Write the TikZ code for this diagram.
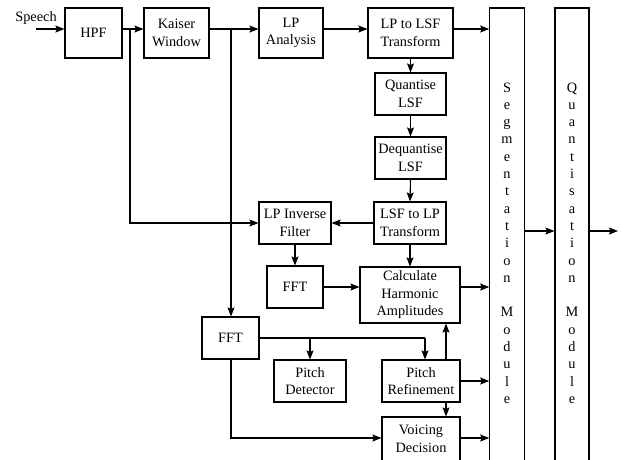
\documentclass[tikz,border=0pt]{standalone}
\usepackage{fontspec}
\setmainfont{Liberation Serif}
\usetikzlibrary{arrows.meta}
\begin{document}
\begin{tikzpicture}[x=1pt,y=-1pt,
  every node/.style={font=\fontsize{14.3}{17.5}\selectfont},
  box/.style={draw,line width=1.1pt,align=center,inner sep=0pt},
  arr/.style={line width=1.1pt,-{Stealth[length=9pt,width=7pt,inset=1.5pt]}},
  ln/.style={line width=1.1pt}]
\useasboundingbox (0,0) rectangle (622,459);
\clip (0,0) rectangle (622,459);
% boxes
\node[box,minimum width=57pt,minimum height=50pt] (hpf) at (93.5,33) {HPF};
\node[box,minimum width=65pt,minimum height=50pt] (kaiser) at (176.5,33) {Kaiser\\Window};
\node[box,minimum width=64pt,minimum height=50pt] (lpa) at (291,33) {LP\\Analysis};
\node[box,minimum width=85pt,minimum height=50pt] (lp2lsf) at (410.5,33) {LP to LSF\\Transform};
\node[box,minimum width=71pt,minimum height=42pt] (qlsf) at (410.5,94) {Quantise\\LSF};
\node[box,minimum width=71pt,minimum height=42pt] (dqlsf) at (410.5,158) {Dequantise\\LSF};
\node[box,minimum width=72pt,minimum height=42pt] (lsf2lp) at (410,223) {LSF to LP\\Transform};
\node[box,minimum width=72pt,minimum height=42pt] (lpinv) at (295,223) {LP Inverse\\Filter};
\node[box,minimum width=56pt,minimum height=42pt] (fft1) at (295,287) {FFT};
\node[box,minimum width=100pt,minimum height=56pt] (calc) at (410,295) {Calculate\\Harmonic\\Amplitudes};
\node[box,minimum width=57pt,minimum height=42pt] (fft2) at (230.5,338) {FFT};
\node[box,minimum width=72pt,minimum height=42pt] (pdet) at (310,381) {Pitch\\Detector};
\node[box,minimum width=78pt,minimum height=42pt] (pref) at (421,381) {Pitch\\Refinement};
\node[box,minimum width=78pt,minimum height=44pt] (voic) at (421,439) {Voicing\\Decision};
\node[box,minimum width=34.5pt,minimum height=462pt] (seg) at (507,239) {};
\node[box,minimum width=34pt,minimum height=462pt] (quant) at (572,239) {};
% vertical letters
\foreach \ch [count=\i] in {S,e,g,m,e,n,t,a,t,i,o,n,{},M,o,d,u,l,e}
  \node[anchor=base,inner sep=0pt] (segl\i) at (507,92+17.3*\i-17.3) {\ch};
\foreach \ch [count=\i] in {Q,u,a,n,t,i,s,a,t,i,o,n,{},M,o,d,u,l,e}
  \node[anchor=base,inner sep=0pt] (quantl\i) at (572,92+17.3*\i-17.3) {\ch};
% input
\node (speechlbl) at (36,18) {Speech};
\coordinate (sp) at (36,29);
\coordinate (r1) at (0,29);
\coordinate (b1) at (130,29);
\coordinate (b2) at (231,29);
\draw[arr] (sp) -- (hpf.west |- r1);
\draw[arr] (hpf.east |- r1) -- (kaiser.west |- r1);
\draw[arr] (kaiser.east |- r1) -- (lpa.west |- r1);
\draw[arr] (lpa.east |- r1) -- (lp2lsf.west |- r1);
\draw[arr] (lp2lsf.east |- r1) -- (seg.west |- r1);
\draw[arr] (b1) |- (lpinv.west);
\draw[arr] (b2) -- (b2 |- fft2.north);
% LSF chain
\draw[arr] (lp2lsf.south -| qlsf.north) -- (qlsf.north);
\draw[arr] (qlsf.south) -- (dqlsf.north);
\draw[arr] (dqlsf.south) -- (lsf2lp.north);
\draw[arr] (lsf2lp.west) -- (lpinv.east);
\draw[arr] (lpinv.south) -- (lpinv.south |- fft1.north);
\draw[arr] (fft1.east) -- (fft1.east -| calc.west);
\draw[arr] (lsf2lp.south) -- (lsf2lp.south |- calc.north);
\draw[arr] (calc.east |- fft1.east) -- (seg.west |- fft1.east);
% pitch
\coordinate (c1) at (425,338);
\coordinate (c2) at (310,338);
\coordinate (c3) at (446,0);
\draw[ln] (fft2.east) -- (c1);
\draw[arr] (c1) -- (c1 |- pref.north);
\draw[arr] (c2) -- (pdet.north);
\draw[arr] (c3 |- pref.north) -- (c3 |- calc.south);
\draw[arr] (c3 |- pref.south) -- (c3 |- voic.north);
\draw[arr] (pref.east) -- (seg.west |- pref.east);
\coordinate (v1) at (231,438);
\draw[arr] (fft2.south -| v1) -- (v1) -- (voic.west |- v1);
\draw[arr] (voic.east |- v1) -- (seg.west |- v1);
% output
\coordinate (o1) at (618,231);
\draw[arr] (seg.east |- o1) -- (quant.west |- o1);
\draw[arr] (quant.east |- o1) -- (o1);
\end{tikzpicture}
\end{document}
